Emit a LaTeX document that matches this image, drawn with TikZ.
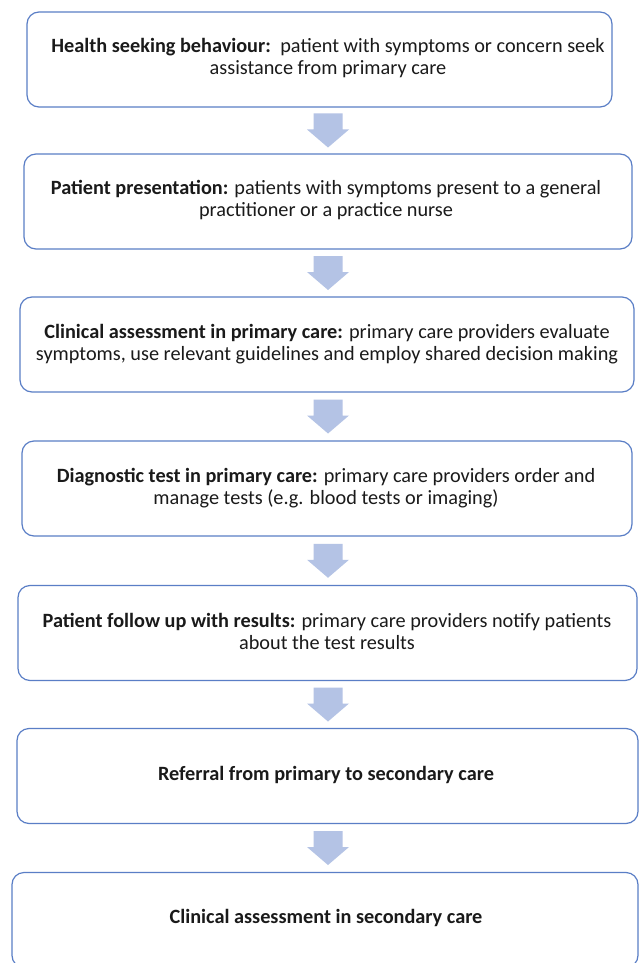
\documentclass[tikz,border=0pt]{standalone}
\usepackage{fontspec}
\setmainfont{Carlito}
\usetikzlibrary{calc}
\definecolor{boxline}{HTML}{5A7EC6}
\definecolor{arrowfill}{HTML}{B4C3E5}
\definecolor{txtc}{HTML}{1A1A1A}
\tikzset{
  flowbox/.style={draw=boxline, line width=0.9pt, rounded corners=9pt, fill=white, inner sep=0pt, minimum height=71.25pt},
  flowtxt/.style={align=center, text=txtc, font=\fontsize{15.2pt}{16.5pt}\selectfont, inner sep=0pt},
  downarrow/.pic={\fill[arrowfill] (-14.5,-17) -- (14.5,-17) -- (14.5,-1) -- (21,-1) -- (0,17) -- (-21,-1) -- (-14.5,-1) -- cycle;}
}
\begin{document}
\begin{tikzpicture}[x=0.75pt,y=-0.75pt]
\useasboundingbox (0,0) rectangle (640,963);
\fill[white] (0,0) rectangle (640,963);
\coordinate (ax) at (328,0);

\node[flowbox, minimum width=438.75pt] (b1) at (319.5,59.5) {};
\node[flowbox, minimum width=456pt] (b2) at (328,201.5) {};
\node[flowbox, minimum width=460.5pt] (b3) at (327,344.5) {};
\node[flowbox, minimum width=457.5pt] (b4) at (327,488.5) {};
\node[flowbox, minimum width=464.25pt] (b5) at (327.5,633) {};
\node[flowbox, minimum width=465.75pt] (b6) at (327.5,776) {};
\node[flowbox, minimum width=469.5pt] (b7) at (325,920) {};

\node[flowtxt] (t1) at (328,58) {\textbf{Health seeking behaviour:}\, patient with symptoms or concern seek\\assistance from primary care};
\node[flowtxt] (t2) at (326,200) {\textbf{Patient presentation:} patients with symptoms present to a general\\practitioner or a practice nurse};
\node[flowtxt] (t3) at (327,344) {\textbf{Clinical assessment in primary care:} primary care providers evaluate\\symptoms, use relevant guidelines and employ shared decision making};
\node[flowtxt] (t4) at (326,488) {\textbf{Diagnostic test in primary care:} primary care providers order and\\manage tests (e.g. blood tests or imaging)};
\node[flowtxt] (t5) at (327,631) {\textbf{Patient follow up with results:} primary care providers notify patients\\about the test results};
\node[flowtxt] (t6) at (326,775) {\textbf{Referral from primary to secondary care}};
\node[flowtxt] (t7) at (326,918) {\textbf{Clinical assessment in secondary care}};

\coordinate (m1) at ($(b1.south)!0.5!(b2.north)$);
\coordinate (m2) at ($(b2.south)!0.5!(b3.north)$);
\coordinate (m3) at ($(b3.south)!0.5!(b4.north)$);
\coordinate (m4) at ($(b4.south)!0.5!(b5.north)$);
\coordinate (m5) at ($(b5.south)!0.5!(b6.north)$);
\coordinate (m6) at ($(b6.south)!0.5!(b7.north)$);
\foreach \m in {m1,m2,m3,m4,m5,m6} {\pic at (ax |- \m) {downarrow};}
\end{tikzpicture}
\end{document}
